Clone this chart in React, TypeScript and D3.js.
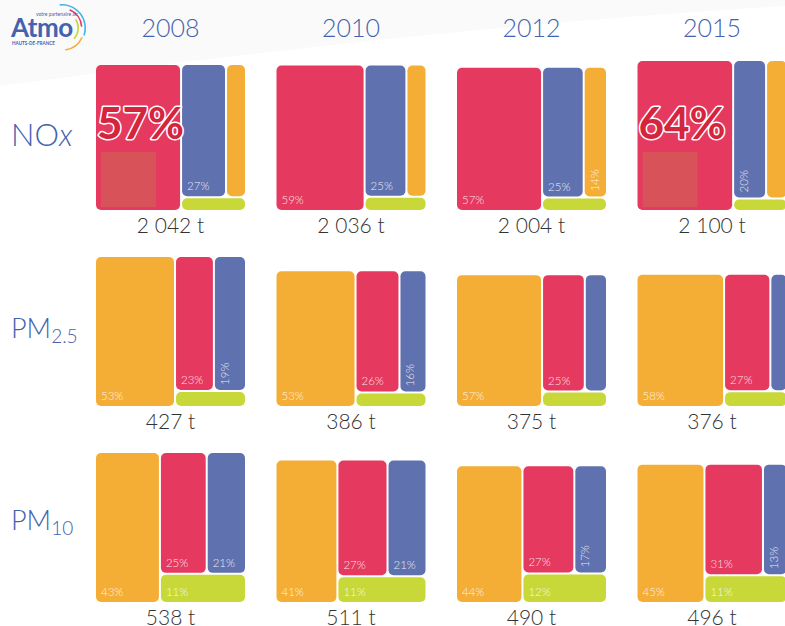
import React from "react";
import * as d3 from "d3";

const years = ["2008", "2010", "2012", "2015"];
const pollutants = ["NOx", "PM2.5", "PM10"];
const sectors = ["Transport routier", "Industrie", "Résidentiel-tertiaire", "Agriculture"];
const sectorColors = ["#E5395F", "#5F71AF", "#F4AE36", "#C8D838"];

// tonnes per year
const noxTotals = [2042, 2036, 2004, 2100];
const pm25Totals = [427, 386, 375, 376];
const pm10Totals = [538, 511, 490, 496];

// shares (%) by sector: transport, industrie, résidentiel, agriculture
const noxShares = [
  [57, 59, 57, 64],
  [27, 25, 25, 20],
  [12, 12, 14, 13],
  [4, 4, 4, 3],
];
const pm25Shares = [
  [23, 26, 25, 27],
  [19, 16, 13, 10],
  [53, 53, 57, 58],
  [5, 5, 5, 5],
];
const pm10Shares = [
  [25, 27, 27, 31],
  [21, 21, 17, 13],
  [43, 41, 44, 45],
  [11, 11, 12, 11],
];

// order of the sectors in each block: first column, then two side by side, then the strip
const noxOrder = [0, 1, 2, 3];
const pmOrder = [2, 0, 1, 3];

// blocks with the big call-out
const highlighted = [["NOx", "2008"], ["NOx", "2015"]];

const totalsBy = [noxTotals, pm25Totals, pm10Totals];
const sharesBy = [noxShares, pm25Shares, pm10Shares];
const orderBy = [noxOrder, pmOrder, pmOrder];

const FONT = "Lato, 'Open Sans', sans-serif";
const BLUE = "#4462AE";

function Cell({ p, y, x0, bottom, width, hScale }) {
  const total = totalsBy[p][y];
  const order = orderBy[p];
  const shares = sharesBy[p];
  const leaf = (k) => ({ sector: k, value: shares[k][y] });
  const tree = {
    children: [
      leaf(order[0]),
      { children: [{ children: [leaf(order[1]), leaf(order[2])] }, leaf(order[3])] },
    ],
  };
  const height = hScale[p](total);
  const root = d3.hierarchy(tree).sum((d) => d.value || 0);
  d3.treemap().tile(d3.treemapSliceDice).size([width, height]).paddingInner(2)(root);
  const leaves = root.leaves();
  const top = bottom - height;
  const isHi = highlighted.some(([a, b]) => a === pollutants[p] && b === years[y]);

  return (
    <g transform={`translate(${x0},${top})`}>
      {leaves.map((n, i) => {
        const w = n.x1 - n.x0;
        const h = n.y1 - n.y0;
        const label = n.data.value + "%";
        let txt = null;
        if (w >= 34 && h >= 22) {
          txt = (
            <text x={n.x0 + 5} y={n.y1 - 6} fontSize={11.5} fill="#fff" fillOpacity={0.88}
              fontFamily={FONT} fontWeight={300}>{label}</text>
          );
        } else if (w >= 21 && h >= 34) {
          txt = (
            <text transform={`translate(${n.x0 + 14},${n.y1 - 5}) rotate(-90)`} fontSize={11.5}
              fill="#fff" fillOpacity={0.88} fontFamily={FONT} fontWeight={300}>{label}</text>
          );
        }
        return (
          <g key={i}>
            <rect x={n.x0} y={n.y0} width={w} height={h} rx={5} ry={5}
              fill={sectorColors[n.data.sector]}>
              <title>{`${sectors[n.data.sector]} : ${label}`}</title>
            </rect>
            {txt}
          </g>
        );
      })}
      {isHi && (
        <g>
          <rect x={5} y={height - 58} width={55} height={55} fill="#D85259" />
          <text x={1} y={height - 71} fontSize={44} fontWeight={700} fontFamily={FONT}
            fill="#D4253C" stroke="#fff" strokeWidth={3} paintOrder="stroke"
            strokeLinejoin="round">{leaves[0].data.value}%</text>
        </g>
      )}
      <text x={width / 2} y={height + 23} textAnchor="middle" fontSize={21} fill="#333"
        fontFamily={FONT} fontWeight={300}>
        {d3.format(",")(total).replace(/,/g, " ")} t
      </text>
    </g>
  );
}

function Logo() {
  const arc = d3.arc();
  const rings = [
    { r: 24, c: "#41B6E6", a0: -0.1, a1: 1.9 },
    { r: 20.5, c: "#E5395F", a0: 0.4, a1: 1.5 },
    { r: 17, c: "#C8D838", a0: 1.0, a1: 2.3 },
    { r: 23, c: "#F4AE36", a0: 2.0, a1: 3.0 },
  ];
  return (
    <g>
      {rings.map((d, i) => (
        <path key={i} transform="translate(62,28)" fill={d.c}
          d={arc({ innerRadius: d.r - 1.6, outerRadius: d.r, startAngle: d.a0, endAngle: d.a1 })} />
      ))}
      <text x={36} y={15.5} fontSize={5} fill={BLUE} fontFamily={FONT}>votre partenaire air</text>
      <text x={11} y={37} fontSize={26} fontWeight={700} fill={BLUE} fontFamily={FONT}
        letterSpacing={-0.5}>Atmo</text>
      <text x={12} y={45} fontSize={4.6} fontWeight={700} fill={BLUE} fontFamily={FONT}>HAUTS-DE-FRANCE</text>
    </g>
  );
}

export default function App() {
  const W = 785;
  const H = 626;
  const cellW = 149;
  const x = d3.scaleBand().domain(years).range([96, 96 + 3 * 180.5 + cellW]).paddingInner(0.1745);
  const rowBottom = d3.scalePoint().domain(pollutants).range([210, 602]);
  const hScale = totalsBy.map((t) => d3.scaleLinear().domain([0, d3.max(t)]).range([0, cellW]));

  return (
    <div style={{ position: "fixed", left: 0, top: 0, width: W, height: H, overflow: "hidden", background: "#fff" }}>
      <svg width={W} height={H} style={{ display: "block" }}>
        <path d={`M0,0 L${W},0 L${W},6 Q420,28 0,86 Z`} fill="#F6F6F8" opacity={0.5} />
        <Logo />
        {years.map((yr) => (
          <text key={yr} x={x(yr) + x.bandwidth() / 2} y={37} textAnchor="middle" fontSize={25}
            fill={BLUE} fontFamily={FONT} fontWeight={300}>{yr}</text>
        ))}
        {pollutants.map((pol, i) => {
          const base = rowBottom(pol) - 64 - 4 * i;
          return (
            <text key={pol} x={11} y={base} fontFamily={FONT} fontWeight={300} fill={BLUE}
              fontSize={i === 0 ? 31 : 27}>
              {i === 0 ? (
                <>NO<tspan fontStyle="italic">x</tspan></>
              ) : (
                <>PM<tspan fontSize={19} dy={5}>{pol.slice(2)}</tspan></>
              )}
            </text>
          );
        })}
        {pollutants.map((pol, p) =>
          years.map((yr, y) => (
            <Cell key={pol + yr} p={p} y={y} x0={x(yr)} bottom={rowBottom(pol)}
              width={x.bandwidth()} hScale={hScale} />
          ))
        )}
      </svg>
    </div>
  );
}
